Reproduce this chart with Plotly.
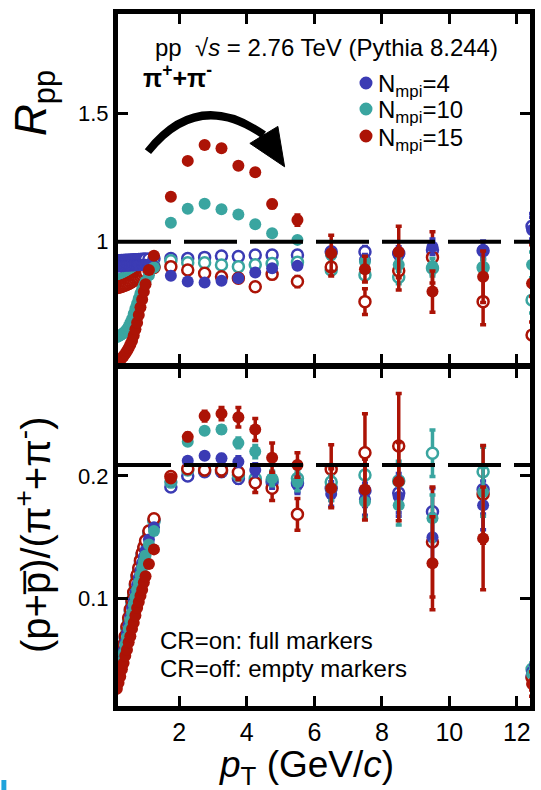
import plotly.graph_objects as go

# ---------------------------------------------------------------- data
# transverse-momentum bin centres (GeV/c)
pt_low = [0.15, 0.2, 0.25, 0.3, 0.35, 0.4, 0.45, 0.5, 0.55, 0.6,
          0.65, 0.7, 0.75, 0.8, 0.85, 0.9, 0.95, 1.0, 1.1, 1.25]
pt_high = [1.75, 2.25, 2.75, 3.25, 3.75, 4.25, 4.75, 5.5, 6.5, 7.5,
           8.5, 9.5, 11.0, 12.45]

# R_pp of pi+ + pi-, low-pT part
rpp_n4_on_low = [0.903, 0.904, 0.904, 0.905, 0.905, 0.906, 0.906, 0.906, 0.907, 0.907,
                 0.907, 0.908, 0.908, 0.908, 0.909, 0.909, 0.909, 0.910, 0.910, 0.905]
rpp_n4_off_low = [0.925, 0.926, 0.926, 0.927, 0.927, 0.928, 0.928, 0.928, 0.929, 0.929,
                  0.930, 0.930, 0.930, 0.931, 0.931, 0.932, 0.932, 0.933, 0.933, 0.934]
rpp_n10_on_low = [0.630, 0.632, 0.636, 0.640, 0.645, 0.652, 0.660, 0.670, 0.685, 0.700,
                  0.720, 0.740, 0.760, 0.780, 0.800, 0.815, 0.830, 0.845, 0.870, 0.900]
rpp_n10_off_low = [0.848, 0.850, 0.852, 0.855, 0.857, 0.860, 0.862, 0.865, 0.867, 0.870,
                   0.872, 0.875, 0.878, 0.880, 0.883, 0.886, 0.889, 0.892, 0.897, 0.905]
rpp_n15_on_low = [0.530, 0.535, 0.540, 0.548, 0.556, 0.565, 0.575, 0.587, 0.600, 0.615,
                  0.635, 0.660, 0.685, 0.715, 0.745, 0.775, 0.805, 0.835, 0.890, 0.945]
rpp_n15_off_low = [0.822, 0.823, 0.825, 0.827, 0.830, 0.832, 0.835, 0.838, 0.841, 0.845,
                   0.849, 0.853, 0.857, 0.861, 0.866, 0.871, 0.876, 0.881, 0.890, 0.900]

# R_pp of pi+ + pi-, intermediate / high pT
rpp_n4_on = [0.868, 0.845, 0.841, 0.848, 0.858, 0.880, 0.897, 0.906, 0.950, 0.930, 0.948, 0.980, 0.968, 1.045]
rpp_n4_off = [0.935, 0.935, 0.939, 0.944, 0.942, 0.948, 0.948, 0.948, 0.961, 0.961, 0.955, 0.968, 0.965, 1.060]
rpp_n10_on = [1.074, 1.128, 1.147, 1.126, 1.106, 1.068, 1.033, 1.007, 0.948, 0.922, 0.910, 0.905, 0.897, 0.910]
rpp_n10_off = [0.926, 0.918, 0.918, 0.909, 0.903, 0.910, 0.915, 0.920, 0.890, 0.871, 0.862, 0.897, 0.900, 0.773]
rpp_n15_on = [1.175, 1.314, 1.376, 1.363, 1.295, 1.270, 1.146, 1.084, 0.955, 0.893, 0.960, 0.806, 0.864, 0.838]
rpp_n15_off = [0.903, 0.890, 0.877, 0.864, 0.858, 0.825, 0.873, 0.845, 0.902, 0.767, 0.887, 0.939, 0.767, 0.637]

rpp_err_small = [0.002, 0.002, 0.003, 0.003, 0.004, 0.005, 0.006, 0.008, 0.015, 0.020, 0.025, 0.030, 0.035, 0.050]
rpp_err_n15_on = [0.004, 0.005, 0.006, 0.007, 0.009, 0.011, 0.014, 0.020, 0.070, 0.050, 0.100, 0.080, 0.100, 0.150]
rpp_err_n15_off = [0.004, 0.005, 0.006, 0.007, 0.009, 0.011, 0.014, 0.020, 0.035, 0.050, 0.075, 0.100, 0.090, 0.150]

# (p + pbar)/(pi+ + pi-), low-pT part
ratio_n4_on_low = [0.030, 0.036, 0.043, 0.050, 0.057, 0.064, 0.071, 0.078, 0.085, 0.092,
                   0.098, 0.105, 0.111, 0.117, 0.123, 0.129, 0.134, 0.139, 0.148, 0.158]
ratio_n4_off_low = [0.032, 0.039, 0.046, 0.053, 0.061, 0.068, 0.076, 0.083, 0.090, 0.097,
                    0.104, 0.111, 0.118, 0.124, 0.130, 0.136, 0.141, 0.146, 0.154, 0.164]
ratio_n10_on_low = [0.029, 0.035, 0.041, 0.048, 0.055, 0.062, 0.068, 0.075, 0.082, 0.088,
                    0.095, 0.101, 0.107, 0.113, 0.119, 0.125, 0.130, 0.135, 0.144, 0.155]
ratio_n10_off_low = [0.031, 0.038, 0.045, 0.052, 0.060, 0.067, 0.075, 0.082, 0.089, 0.096,
                     0.103, 0.110, 0.117, 0.123, 0.129, 0.135, 0.140, 0.145, 0.153, 0.163]
ratio_n15_on_low = [0.026, 0.031, 0.036, 0.042, 0.047, 0.053, 0.058, 0.064, 0.069, 0.075,
                    0.080, 0.086, 0.092, 0.097, 0.102, 0.107, 0.113, 0.118, 0.128, 0.140]
ratio_n15_off_low = [0.033, 0.040, 0.047, 0.054, 0.062, 0.069, 0.077, 0.084, 0.091, 0.098,
                     0.105, 0.112, 0.119, 0.125, 0.131, 0.137, 0.142, 0.147, 0.155, 0.165]

# (p + pbar)/(pi+ + pi-), intermediate / high pT
ratio_n4_on = [0.196, 0.2125, 0.2166, 0.2145, 0.2117, 0.205, 0.196, 0.1926, 0.1853, 0.181, 0.183, 0.150, 0.176, 0.040]
ratio_n4_off = [0.191, 0.200, 0.2035, 0.2035, 0.198, 0.196, 0.195, 0.194, 0.190, 0.188, 0.186, 0.1708, 0.189, 0.036]
ratio_n10_on = [0.196, 0.228, 0.237, 0.238, 0.227, 0.220, 0.198, 0.195, 0.190, 0.179, 0.176, 0.1654, 0.187, 0.038]
ratio_n10_off = [0.195, 0.205, 0.205, 0.205, 0.2008, 0.198, 0.197, 0.198, 0.195, 0.2008, 0.196, 0.2186, 0.2035, 0.042]
ratio_n15_on = [0.198, 0.232, 0.249, 0.251, 0.248, 0.238, 0.215, 0.209, 0.190, 0.189, 0.1954, 0.1286, 0.149, 0.030]
ratio_n15_off = [0.1995, 0.206, 0.205, 0.205, 0.203, 0.1945, 0.190, 0.1687, 0.2055, 0.219, 0.2245, 0.146, 0.185, 0.035]

ratio_err_small = [0.001, 0.002, 0.002, 0.003, 0.004, 0.005, 0.006, 0.007, 0.010, 0.013, 0.016, 0.019, 0.020, 0.005]
ratio_err_n15_on = [0.002, 0.003, 0.004, 0.005, 0.008, 0.009, 0.012, 0.010, 0.016, 0.025, 0.032, 0.038, 0.042, 0.010]
ratio_err_n15_off = [0.002, 0.003, 0.004, 0.005, 0.006, 0.008, 0.010, 0.013, 0.020, 0.032, 0.043, 0.045, 0.040, 0.010]

nmpi_labels = ["N<sub>mpi</sub>=4", "N<sub>mpi</sub>=10", "N<sub>mpi</sub>=15"]

# ---------------------------------------------------------------- style
BLUE = "#3b3bb4"
TEAL = "#3aa5a0"
RED = "#ac1306"
COLORS = [BLUE, TEAL, RED]
FONT = "Liberation Sans, Arial, sans-serif"

# plot-area geometry in pixels (used to place text in paper units)
W, H = 541, 790
L, R, T, B = 118, 6, 14, 84
PW, PH = W - L - R, H - T - B


def px_x(px):
    return (px - L) / PW


def px_y(py):
    return (H - B - py) / PH


X_RANGE = [0.184, 12.389]
RPP_RANGE = [0.5266, 1.8848]
RATIO_RANGE = [0.01194, 0.2879]

fig = go.Figure()

zeros_low = [0.0] * len(pt_low)


def add_series(x, y, err, color, filled, xa, ya):
    if filled:
        marker = dict(symbol="circle", size=12, color=color, line=dict(width=0))
    else:
        marker = dict(symbol="circle", size=11, color="white",
                      line=dict(color=color, width=2.5))
    fig.add_trace(go.Scatter(
        x=x, y=y, mode="markers", marker=marker,
        error_y=dict(type="data", array=err, color=color, thickness=3.5, width=3),
        xaxis=xa, yaxis=ya, showlegend=False, cliponaxis=True,
    ))


pt_all = pt_low + pt_high

top_off = [(rpp_n4_off_low + rpp_n4_off, rpp_err_small),
           (rpp_n10_off_low + rpp_n10_off, rpp_err_small),
           (rpp_n15_off_low + rpp_n15_off, rpp_err_n15_off)]
top_on = [(rpp_n4_on_low + rpp_n4_on, rpp_err_small),
          (rpp_n10_on_low + rpp_n10_on, rpp_err_small),
          (rpp_n15_on_low + rpp_n15_on, rpp_err_n15_on)]
bot_off = [(ratio_n4_off_low + ratio_n4_off, ratio_err_small),
           (ratio_n10_off_low + ratio_n10_off, ratio_err_small),
           (ratio_n15_off_low + ratio_n15_off, ratio_err_n15_off)]
bot_on = [(ratio_n4_on_low + ratio_n4_on, ratio_err_small),
          (ratio_n10_on_low + ratio_n10_on, ratio_err_small),
          (ratio_n15_on_low + ratio_n15_on, ratio_err_n15_on)]

# CR off (empty markers) first, CR on (full markers) on top
for (vals, err), c in zip(top_off, COLORS):
    add_series(pt_all, vals, zeros_low + err, c, False, "x", "y")
for (vals, err), c in zip(top_on, COLORS):
    add_series(pt_all, vals, zeros_low + err, c, True, "x", "y")
for (vals, err), c in zip(bot_off, COLORS):
    add_series(pt_all, vals, zeros_low + err, c, False, "x2", "y2")
for (vals, err), c in zip(bot_on, COLORS):
    add_series(pt_all, vals, zeros_low + err, c, True, "x2", "y2")

# ---------------------------------------------------------------- axes
frame = dict(showline=True, linewidth=5, linecolor="black", mirror="allticks",
             ticks="inside", ticklen=10, tickwidth=3, tickcolor="black",
             showgrid=False, zeroline=False)

fig.update_layout(
    xaxis=dict(domain=[0, 1], range=X_RANGE, anchor="y",
               tickvals=[2, 4, 6, 8, 10, 12], showticklabels=False, **frame),
    yaxis=dict(domain=[0.49494, 1], range=RPP_RANGE, anchor="x",
               tickvals=[1, 1.5], ticktext=["1", "1.5"],
               tickfont=dict(family=FONT, size=22, color="black"), **frame),
    xaxis2=dict(domain=[0, 1], range=X_RANGE, anchor="y2",
                tickvals=[2, 4, 6, 8, 10, 12],
                tickfont=dict(family=FONT, size=25, color="black"), **frame),
    yaxis2=dict(domain=[0, 0.48772], range=RATIO_RANGE, anchor="x2",
                tickvals=[0.1, 0.2], ticktext=["0.1", "0.2"],
                tickfont=dict(family=FONT, size=22, color="black"), **frame),
)

# ---------------------------------------------------------------- reference lines and arrow
shapes = [
    dict(type="line", xref="x", yref="y", x0=X_RANGE[0], x1=X_RANGE[1], y0=1, y1=1,
         line=dict(color="black", width=4, dash="53px,13px"), layer="above"),
    dict(type="line", xref="x2", yref="y2", x0=X_RANGE[0], x1=X_RANGE[1], y0=0.209, y1=0.209,
         line=dict(color="black", width=4, dash="53px,13px"), layer="above"),
    # curved arrow over the pi R_pp bump
    dict(type="path", xref="x", yref="y", path="M 1.07,1.35 Q 2.55,1.595 4.5,1.415",
         line=dict(color="black", width=8), layer="above"),
    dict(type="path", xref="x", yref="y",
         path="M 4.09,1.382 L 4.92,1.448 L 5.12,1.291 Z",
         fillcolor="black", line=dict(color="black", width=1), layer="above"),
    # small blue tab in the lower-left corner
    dict(type="rect", xref="paper", yref="paper",
         x0=px_x(0), x1=px_x(5), y0=px_y(790), y1=px_y(780),
         fillcolor="#1fa3dc", line=dict(width=0)),
]

# legend markers
legend_y = [83, 109, 136]
for c, ly in zip(COLORS, legend_y):
    shapes.append(dict(type="circle", xref="paper", yref="paper",
                       xsizemode="pixel", ysizemode="pixel",
                       xanchor=px_x(369), yanchor=px_y(ly),
                       x0=-6.5, x1=6.5, y0=-6.5, y1=6.5,
                       fillcolor=c, line=dict(width=0)))
fig.update_layout(shapes=shapes)

# ---------------------------------------------------------------- text
ann = []


def text(x, y, s, size, xanchor="left", yanchor="middle", angle=0, color="black"):
    ann.append(dict(x=x, y=y, xref="paper", yref="paper", text=s, showarrow=False,
                    xanchor=xanchor, yanchor=yanchor, textangle=angle,
                    font=dict(family=FONT, size=size, color=color)))


text(px_x(153), px_y(47), "pp\u00a0\u00a0\u221a<i>s</i> = 2.76 TeV (Pythia 8.244)", 24)
text(px_x(141), px_y(76), "<b>\u03c0<sup>+</sup>+\u03c0<sup>-</sup></b>", 25)
for s, ly in zip(nmpi_labels, legend_y):
    text(px_x(379), px_y(ly + 3), s, 24)
text(px_x(158), px_y(640), "CR=on: full markers", 24)
text(px_x(158), px_y(668), "CR=off: empty markers", 24)

text(px_x(33), px_y(103), "<i>R</i><sub>pp</sub>", 44, xanchor="center", angle=-90)
text(px_x(32), px_y(535), "(p+p\u0305)/(\u03c0<sup>+</sup>+\u03c0<sup>-</sup>)", 40,
     xanchor="center", angle=-90)
text(px_x(309), px_y(767), "<i>p</i><sub>T</sub> (GeV/<i>c</i>)", 37, xanchor="center")

fig.update_layout(
    annotations=ann,
    width=W, height=H,
    margin=dict(l=L, r=R, t=T, b=B),
    paper_bgcolor="white", plot_bgcolor="white",
    showlegend=False,
    font=dict(family=FONT, color="black"),
)

fig.write_html("out.html")
